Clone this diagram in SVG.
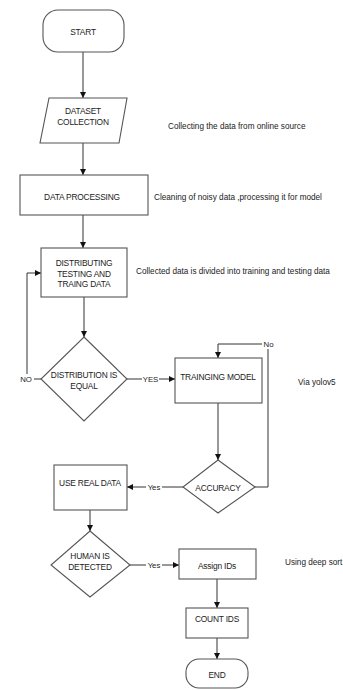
<svg xmlns="http://www.w3.org/2000/svg" width="343" height="690" viewBox="0 0 343 690">
  <defs>
    <marker id="arrow" viewBox="0 0 10 10" refX="10" refY="5" markerWidth="6" markerHeight="6" markerUnits="userSpaceOnUse" orient="auto">
      <path d="M0,0 L10,5 L0,10 z" fill="#111"/>
    </marker>
  </defs>
  <style>
    .shape { fill: #fff; stroke: #555; stroke-width: 1.1; }
    .edge { fill: none; stroke: #333; stroke-width: 1; }
    .label { font-family: "Liberation Sans", Arial, sans-serif; font-size: 8.4px; fill: #222; text-anchor: middle; dominant-baseline: central; letter-spacing: -0.2px; }
    .note { font-family: "Liberation Sans", Arial, sans-serif; font-size: 8.2px; fill: #222; dominant-baseline: central; }
    .tag { font-family: "Liberation Sans", Arial, sans-serif; font-size: 7.8px; fill: #222; text-anchor: middle; dominant-baseline: central; }
    .tagbg { fill: #fff; }
  </style>
  <rect width="343" height="690" fill="#fff"/>

  <!-- connectors -->
  <g id="connectors">
    <path class="edge" d="M83,52 V98" marker-end="url(#arrow)"/>
    <path class="edge" d="M83,143 V175" marker-end="url(#arrow)"/>
    <path class="edge" d="M83,215 V248" marker-end="url(#arrow)"/>
    <path class="edge" d="M84,297 V337" marker-end="url(#arrow)"/>
    <path class="edge" d="M41,379 H27 V273 H41" marker-end="url(#arrow)"/>
    <path class="edge" d="M127,379 H175" marker-end="url(#arrow)"/>
    <path class="edge" d="M218,403 V460" marker-end="url(#arrow)"/>
    <path class="edge" d="M255,487 H268 V344 H218 V358" marker-end="url(#arrow)"/>
    <path class="edge" d="M183,487 H127" marker-end="url(#arrow)"/>
    <path class="edge" d="M90,510 V531" marker-end="url(#arrow)"/>
    <path class="edge" d="M130,565 H179" marker-end="url(#arrow)"/>
    <path class="edge" d="M217,579 V608" marker-end="url(#arrow)"/>
    <path class="edge" d="M217,638 V659" marker-end="url(#arrow)"/>

    <rect class="tagbg" x="18" y="374" width="16" height="10"/>
    <text class="tag" x="26" y="379.5">NO</text>
    <rect class="tagbg" x="142" y="374" width="17" height="10"/>
    <text class="tag" x="150.5" y="379.5">YES</text>
    <rect class="tagbg" x="262" y="339" width="13" height="10"/>
    <text class="tag" x="268.5" y="344.5">No</text>
    <rect class="tagbg" x="146" y="482" width="16" height="10"/>
    <text class="tag" x="154" y="487.5">Yes</text>
    <rect class="tagbg" x="146" y="560" width="16" height="10"/>
    <text class="tag" x="154" y="565.5">Yes</text>
  </g>

  <g id="start">
    <rect class="shape" x="43" y="10" width="81" height="42" rx="15"/>
    <text class="label" x="83" y="32">START</text>
  </g>

  <g id="dataset-collection">
    <polygon class="shape" points="49,98 127,98 119,143 40,143"/>
    <text class="label" x="83" y="111">DATASET</text>
    <text class="label" x="83" y="122">COLLECTION</text>
  </g>

  <g id="data-processing">
    <rect class="shape" x="20" y="175" width="128" height="40"/>
    <text class="label" x="82" y="197">DATA PROCESSING</text>
  </g>

  <g id="distributing">
    <rect class="shape" x="41" y="248" width="86" height="49"/>
    <text class="label" x="84" y="263">DISTRIBUTING</text>
    <text class="label" x="84" y="273.5">TESTING AND</text>
    <text class="label" x="84" y="284">TRAING DATA</text>
  </g>

  <g id="distribution-equal">
    <polygon class="shape" points="84,337 127,379 84,421 41,379"/>
    <text class="label" x="84" y="375">DISTRIBUTION IS</text>
    <text class="label" x="84" y="385.5">EQUAL</text>
  </g>

  <g id="training-model">
    <rect class="shape" x="175" y="358" width="87" height="45"/>
    <text class="label" x="218" y="377">TRAINGING MODEL</text>
  </g>

  <g id="accuracy">
    <polygon class="shape" points="218,460 255,487 218,513 183,487"/>
    <text class="label" x="218" y="488">ACCURACY</text>
  </g>

  <g id="use-real-data">
    <rect class="shape" x="54" y="465" width="73" height="45"/>
    <text class="label" x="90" y="483">USE REAL DATA</text>
  </g>

  <g id="human-detected">
    <polygon class="shape" points="90,531 130,565 90,597 51,565"/>
    <text class="label" x="90" y="556">HUMAN IS</text>
    <text class="label" x="90" y="566.5">DETECTED</text>
  </g>

  <g id="assign-ids">
    <rect class="shape" x="179" y="549" width="77" height="30"/>
    <text class="label" x="217" y="566">Assign IDs</text>
  </g>

  <g id="count-ids">
    <rect class="shape" x="186" y="608" width="62" height="30"/>
    <text class="label" x="217" y="619">COUNT IDS</text>
  </g>

  <g id="end">
    <rect class="shape" x="186" y="659" width="62" height="29" rx="13"/>
    <text class="label" x="217" y="675">END</text>
  </g>

  <!-- side notes -->
  <g id="notes">
    <text class="note" x="168" y="126">Collecting the data from online source</text>
    <text class="note" x="154" y="197">Cleaning of noisy data ,processing it for model</text>
    <text class="note" x="136" y="271">Collected data is divided into training and testing data</text>
    <text class="note" x="298" y="382">Via yolov5</text>
    <text class="note" x="285" y="562">Using deep sort</text>
  </g>
</svg>
